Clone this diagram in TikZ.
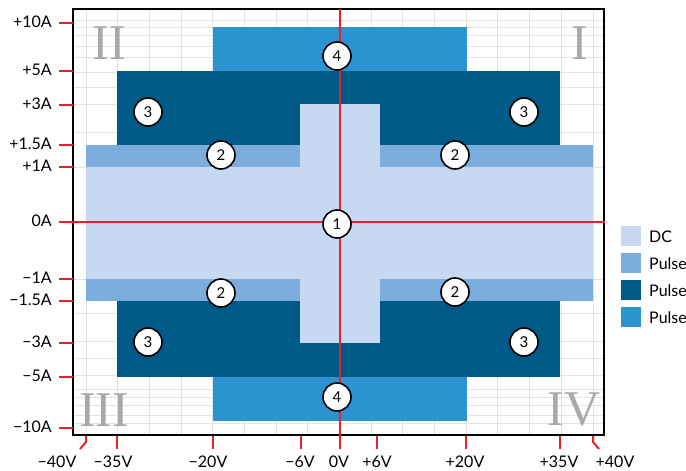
\documentclass[tikz,border=0pt]{standalone}
\usepackage{fontspec}
\setmainfont{Lato}
\newfontfamily\romanfont{Liberation Serif}
\definecolor{dccol}{HTML}{C6D9F0}
\definecolor{ptwo}{HTML}{7BAEDD}
\definecolor{pthree}{HTML}{005A87}
\definecolor{pfour}{HTML}{2B94D0}
\definecolor{axred}{HTML}{E8212E}
\definecolor{gridcol}{HTML}{E2E2E2}
\definecolor{quadgrey}{HTML}{A7A9AC}
\tikzset{
  gridline/.style={draw=gridcol, line width=1pt},
  redline/.style={draw=axred, line width=1.6pt},
  redtick/.style={draw=axred, line width=2pt},
  axlabel/.style={font=\fontsize{16}{18}\selectfont, inner sep=0pt},
  numcirc/.style={circle, draw=black, line width=1.6pt, fill=white, minimum size=28pt, inner sep=0pt, font=\fontsize{15}{16}\selectfont},
  quad/.style={font=\romanfont\fontsize{50}{50}\selectfont, text=quadgrey, inner sep=0pt},
  legbox/.style={minimum size=20pt, inner sep=0pt},
  legtext/.style={font=\fontsize{16}{18}\selectfont, anchor=west, inner sep=0pt}
}
\begin{document}
\begin{tikzpicture}[x=1pt,y=-1pt]
\useasboundingbox (0,0) rectangle (686,471);
\fill[white] (0,0) rectangle (686,471);
% grid
\foreach \k in {0,...,16} \draw[gridline] ({86+31.6875*\k},9) -- ({86+31.6875*\k},435);
\foreach \y in {20,27,35,46,57,72,87,104,132,167,279,313,341,358,375,389,397,405,415,423}
  \draw[gridline] (73,\y) -- (604,\y);
% regions
\fill[pfour] (213,27) rectangle (467,421);
\fill[pthree] (117,71) rectangle (560,377);
\fill[ptwo] (86,145) rectangle (593,301);
\fill[dccol] (86,167) rectangle (593,279);
\fill[dccol] (300,104) rectangle (380,343);
% quadrant numerals
\node[quad] (qI) at (580,43) {I};
\node[quad] (qII) at (109,43) {II};
\node[quad] (qIII) at (104,410) {III};
\node[quad] (qIV) at (574,410) {IV};
% frame
\draw[line width=2pt] (73,9) rectangle (604,435);
% axes
\coordinate (vt) at (340,9);
\coordinate (vb) at (340,449);
\coordinate (hl) at (59,222);
\coordinate (hr) at (605,222);
\draw[redline] (vt) -- (vb);
\draw[redline] (hl) -- (hr);
% y ticks and labels
\foreach \y/\l [count=\i] in {23/+10A,71/+5A,105/+3A,145/+1.5A,167/+1A,222/0A,279/−1A,301/−1.5A,343/−3A,377/−5A,428/−10A}{
  \coordinate (ya\i) at (59,\y);
  \coordinate (yb\i) at (73,\y);
  \draw[redtick] (ya\i) -- (yb\i);
  \node[axlabel, anchor=east] (yl\i) at (52,\y-1) {\l};
}
% x ticks and labels
\foreach \x/\l [count=\i] in {117/−35V,213/−20V,301/−6V,377/+6V,466/+20V,560/+35V}{
  \coordinate (xa\i) at (\x,436);
  \coordinate (xb\i) at (\x,449);
  \draw[redtick] (xa\i) -- (xb\i);
}
\coordinate (m40a) at (86,436);
\coordinate (m40b) at (86,442);
\coordinate (m40c) at (80,449);
\draw[redtick] (m40a) -- (m40b) -- (m40c);
\coordinate (p40a) at (593,436);
\coordinate (p40b) at (593,442);
\coordinate (p40c) at (599,449);
\draw[redtick] (p40a) -- (p40b) -- (p40c);
\node[axlabel] (xl1) at (57,462) {−40V};
\node[axlabel] (xl2) at (113,462) {−35V};
\node[axlabel] (xl3) at (208,462) {−20V};
\node[axlabel] (xl4) at (300,462) {−6V};
\node[axlabel] (xl5) at (339,462) {0V};
\node[axlabel] (xl6) at (377,462) {+6V};
\node[axlabel] (xl7) at (465,462) {+20V};
\node[axlabel] (xl8) at (559,462) {+35V};
\node[axlabel] (xl9) at (615,462) {+40V};
% numbered circles
\node[numcirc] (c1) at (337,224) {1};
\node[numcirc] (c2a) at (221,155) {2};
\node[numcirc] (c2b) at (455,155) {2};
\node[numcirc] (c2c) at (221,293) {2};
\node[numcirc] (c2d) at (455,292) {2};
\node[numcirc] (c3a) at (148,112) {3};
\node[numcirc] (c3b) at (524,112) {3};
\node[numcirc] (c3c) at (148,342) {3};
\node[numcirc] (c3d) at (524,342) {3};
\node[numcirc] (c4a) at (337,56) {4};
\node[numcirc] (c4b) at (337,397) {4};
% legend
\node[legbox, fill=dccol] (lb1) at (631,236) {};
\node[legbox, fill=ptwo] (lb2) at (631,263) {};
\node[legbox, fill=pthree] (lb3) at (631,290) {};
\node[legbox, fill=pfour] (lb4) at (631,317) {};
\node[legtext] (lt1) at (649,237) {DC};
\node[legtext] (lt2) at (649,264) {Pulse};
\node[legtext] (lt3) at (649,291) {Pulse};
\node[legtext] (lt4) at (649,318) {Pulse};
\end{tikzpicture}
\end{document}
